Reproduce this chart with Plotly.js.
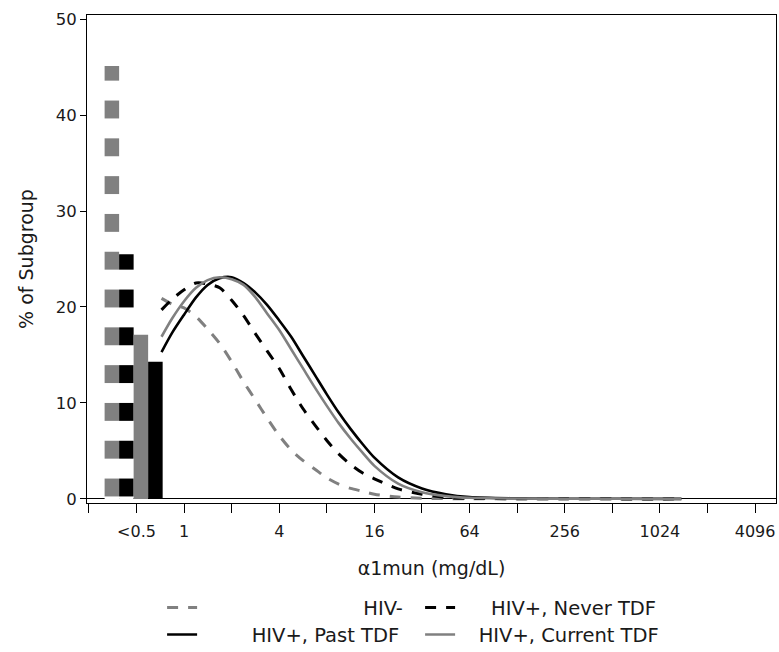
<!DOCTYPE html>
<html>
<head>
<meta charset="utf-8">
<script src="https://cdn.plot.ly/plotly-3.0.1.min.js"></script>
<style>html,body{margin:0;padding:0;background:#fff;}#chart{width:779px;height:652px;}</style>
</head>
<body>
<div id="chart"></div>
<script>
// ---- data ----
const groupNames = ['HIV-', 'HIV+, Never TDF', 'HIV+, Past TDF', 'HIV+, Current TDF'];
const binCenter = 0.5;            // the "<0.5" bin, mg/dL
const barHivNeg = 45.1;
const barNever = 25.5;
const barCurrent = 17.1;
const barPast = 14.3;

const curveX = [0.72, 0.84, 1, 1.19, 1.41, 1.68, 2, 2.38, 2.83, 3.36, 4, 4.76, 5.66, 6.73, 8, 9.51, 11.3, 13.5, 16, 22.6, 32, 45.3, 64, 128, 256, 512, 1400];
const curveHivNeg = [20.9, 20.3, 19.9, 19.0, 17.7, 16.2, 14.3, 12.2, 10.3, 8.4, 6.6, 5.1, 4.0, 3.1, 2.2, 1.55, 1.1, 0.8, 0.5, 0.2, 0.08, 0.04, 0.02, 0.01, 0.01, 0.01, 0.01];
const curveNever = [19.7, 20.8, 21.8, 22.5, 22.4, 22.0, 20.7, 19.1, 17.2, 15.4, 13.6, 11.4, 9.4, 7.7, 6.1, 4.7, 3.6, 2.7, 2.1, 1.05, 0.5, 0.15, 0.06, 0.03, 0.02, 0.01, 0.01];
const curvePast = [15.3, 17.3, 19.2, 21.0, 22.3, 23.0, 23.1, 22.5, 21.5, 20.2, 18.6, 16.9, 14.9, 12.9, 10.9, 9.0, 7.3, 5.7, 4.3, 2.25, 1.1, 0.5, 0.2, 0.07, 0.03, 0.02, 0.01];
const curveCurrent = [16.9, 18.8, 20.6, 22.0, 22.8, 23.1, 22.9, 22.3, 21.0, 19.3, 17.6, 15.6, 13.6, 11.6, 9.7, 7.9, 6.3, 4.8, 3.45, 1.6, 0.7, 0.3, 0.12, 0.05, 0.03, 0.02, 0.01];

const tickValuesMg = [0.25, 0.5, 1, 2, 4, 8, 16, 32, 64, 128, 256, 512, 1024, 2048, 4096];
const tickLabels = ['', '<0.5', '1', '', '4', '', '16', '', '64', '', '256', '', '1024', '', '4096'];
const yTicks = [0, 10, 20, 30, 40, 50];

// ---- styles ----
const GRAY = '#808080';
const BLACK = '#000000';
const FONT = 'DejaVu Sans, Liberation Sans, sans-serif';
const TXT = '#1a1a1a';
const lg = v => Math.log2(v);
const pad = (s, n) => '\u00a0'.repeat(n) + s;

const barW = 0.305;
function bar(val, color, dashed, off) {
  return {
    type: 'bar', x: [lg(binCenter)], y: [val], width: [barW], offset: [off],
    showlegend: false, hoverinfo: 'skip',
    marker: dashed
      ? {color: 'white', line: {width: 0}, pattern: {shape: '-', size: 37.8, solidity: 0.48, fgcolor: color, bgcolor: 'white', fgopacity: 1, fillmode: 'replace'}}
      : {color: color, line: {width: 0}}
  };
}
function curve(ys, name, color, dashed, legendId) {
  return {
    type: 'scatter', mode: 'lines', x: curveX.map(lg), y: ys, name: name,
    legend: legendId, hoverinfo: 'skip',
    line: {color: color, width: dashed ? 3 : 2.6, dash: dashed ? '11px,10px' : 'solid', shape: 'spline', smoothing: 0.8}
  };
}

const data = [
  bar(barHivNeg, GRAY, true, -0.67),
  bar(barNever, BLACK, true, -0.67 + barW),
  bar(barCurrent, GRAY, false, -0.67 + 2 * barW),
  bar(barPast, BLACK, false, -0.67 + 3 * barW),
  curve(curveHivNeg, pad(groupNames[0], 26), GRAY, true, 'legend'),
  curve(curveNever, pad(groupNames[1], 5), BLACK, true, 'legend'),
  curve(curvePast, pad(groupNames[2], 8), BLACK, false, 'legend2'),
  curve(curveCurrent, pad(groupNames[3], 3), GRAY, false, 'legend2')
];

const legendBase = {
  orientation: 'h', xanchor: 'left', yanchor: 'middle', x: 0.109,
  font: {family: FONT, size: 19.5, color: TXT}, bgcolor: 'rgba(0,0,0,0)',
  entrywidth: 213, entrywidthmode: 'pixels', itemclick: false, itemdoubleclick: false
};

const layout = {
  width: 779, height: 652,
  margin: {l: 87, r: 3, t: 15, b: 149, autoexpand: false},
  paper_bgcolor: 'white', plot_bgcolor: 'white',
  font: {family: FONT, color: TXT},
  barmode: 'overlay',
  xaxis: {
    range: [-2.04, 12.44], tickmode: 'array',
    tickvals: tickValuesMg.map(lg), ticktext: tickLabels,
    ticks: 'outside', ticklen: 9, tickwidth: 1, tickcolor: BLACK,
    ticklabelstandoff: 5,
    showline: true, mirror: true, linecolor: BLACK, linewidth: 1,
    showgrid: false, zeroline: false,
    tickfont: {family: FONT, size: 16, color: TXT},
    title: {text: '\u03b11mun (mg/dL)', font: {family: FONT, size: 19, color: TXT}, standoff: 21}
  },
  yaxis: {
    range: [-0.42, 50.42], tickmode: 'array', tickvals: yTicks,
    ticks: 'outside', ticklen: 6, tickwidth: 1, tickcolor: BLACK,
    showline: true, mirror: true, linecolor: BLACK, linewidth: 1,
    showgrid: false, zeroline: true, zerolinecolor: BLACK, zerolinewidth: 1,
    tickfont: {family: FONT, size: 16.5, color: TXT},
    title: {text: '% of Subgroup', font: {family: FONT, size: 19, color: TXT}, standoff: 17}
  },
  legend: Object.assign({}, legendBase, {y: -0.215}),
  legend2: Object.assign({}, legendBase, {y: -0.270}),
  showlegend: true
};

Plotly.newPlot('chart', data, layout, {staticPlot: true, displayModeBar: false});
</script>
</body>
</html>
